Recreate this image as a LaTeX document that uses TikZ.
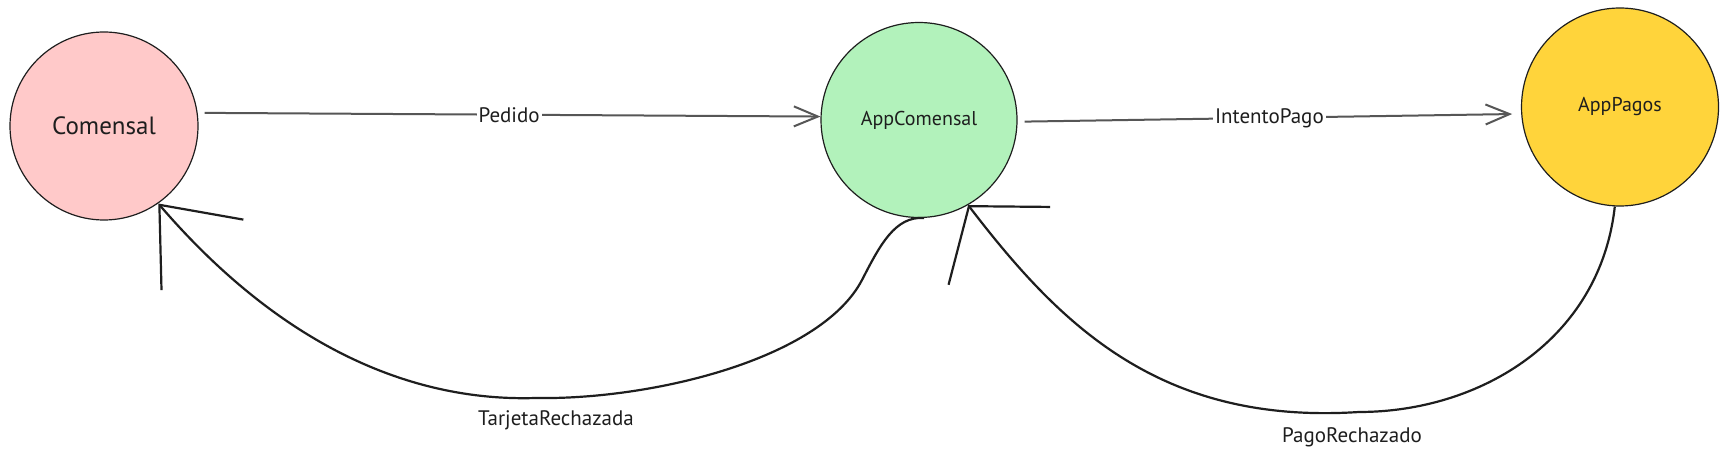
\documentclass[tikz,border=0pt]{standalone}
\usepackage{fontspec}
\setmainfont{PT Sans}
\usetikzlibrary{calc,shapes,positioning}
\usetikzlibrary{arrows.meta}
\definecolor{ink}{HTML}{1E1E1E}
\definecolor{rosa}{HTML}{FFC9C9}
\definecolor{verde}{HTML}{B2F2BB}
\definecolor{amarillo}{HTML}{FFD43B}

\begin{document}
\begin{tikzpicture}[x=0.5pt, y=-0.5pt]

  \tikzstyle{cnode} = [draw=ink, line width=0.6pt, ellipse, inner sep=0pt, align=center, text=ink]
  \tikzstyle{fwd} = [draw=ink!75, line width=1pt, -{Straight Barb[length=12pt,width=10pt]}]
  \tikzstyle{back} = [draw=ink, line width=1.1pt, line join=round]
  \tikzstyle{lab} = [font=\fontsize{10.5}{12}\selectfont, text=ink, inner sep=1pt]

  \path[use as bounding box, fill=white] (0,0) rectangle (1728,459);

  \node[cnode, fill=rosa, minimum width=94pt, minimum height=94pt, font=\fontsize{12.5}{14}\selectfont] (com) at (104,126) {Comensal};
  \node[cnode, fill=verde, minimum width=98pt, minimum height=97.5pt, font=\fontsize{10}{12}\selectfont] (acom) at (919,120) {AppComensal};
  \node[cnode, fill=amarillo, minimum width=98.5pt, minimum height=99pt, font=\fontsize{10}{12}\selectfont] (apag) at (1620,107) {AppPagos};

  % forward messages
  \draw[fwd, shorten <=3.5pt] (com.8) -- node[lab, fill=white] (pedido) {Pedido} (acom.178);
  \draw[fwd, shorten <=3.5pt, shorten >=4.5pt] (acom.-1) -- node[lab, fill=white] (intento) {IntentoPago} (apag.184);

  % rejections
  \draw[back, -{Straight Barb[length=33pt,width=54pt]}] (acom.-87) .. controls (895,216) and (880,245) .. (862,280)
    .. controls (820,360) and (650,400) .. (536,398)
    .. controls (410,402) and (280,345) .. (com.-55);
  \draw[back, -{Straight Barb[length=25pt,width=64pt]}] (apag.-93) .. controls (1600,340) and (1480,412) .. (1359,412)
    .. controls (1160,425) and (1060,325) .. (acom.-60);

  \node[lab] (tarjeta) at (556,420) {TarjetaRechazada};
  \node[lab] (pagorech) at (1352,437) {PagoRechazado};

\end{tikzpicture}
\end{document}
